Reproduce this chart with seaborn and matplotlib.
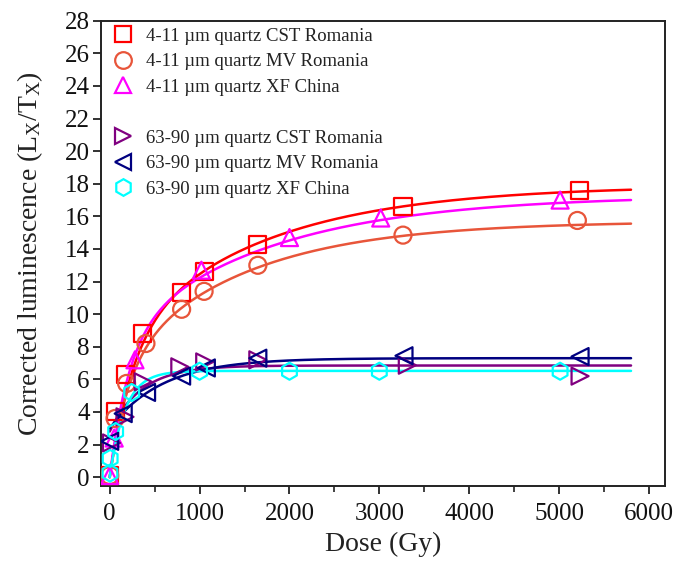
import numpy as np
import pandas as pd
import matplotlib
matplotlib.use("Agg")
import matplotlib.pyplot as plt
from matplotlib.lines import Line2D
from matplotlib.ticker import MultipleLocator
import seaborn as sns

# ---- measured dose-response points (Dose in Gy, corrected Lx/Tx) ----
dose_cst_fine = [0, 60, 180, 370, 800, 1050, 1640, 3263, 5225]
lum_cst_fine = [0.1, 4.0, 6.3, 8.8, 11.3, 12.6, 14.3, 16.6, 17.6]

dose_mv_fine = [0, 60, 188, 403, 800, 1050, 1648, 3263, 5203]
lum_mv_fine = [0.1, 3.6, 5.75, 8.2, 10.3, 11.4, 13.0, 14.85, 15.75]

dose_xf_fine = [0, 50, 281, 1020, 2000, 3015, 5011]
lum_xf_fine = [0.1, 2.4, 7.2, 12.7, 14.7, 15.9, 17.0]

dose_cst_coarse = [20, 170, 373, 780, 1057, 1648, 3311, 5233]
lum_cst_coarse = [2.1, 3.7, 5.85, 6.77, 7.07, 7.2, 6.87, 6.2]

dose_mv_coarse = [0, 150, 410, 800, 1075, 1648, 3274, 5233]
lum_mv_coarse = [2.2, 3.9, 5.2, 6.2, 6.7, 7.3, 7.45, 7.4]

dose_xf_coarse = [3, 5, 66, 244, 1000, 2000, 3000, 5011]
lum_xf_coarse = [0.25, 1.15, 2.8, 5.2, 6.5, 6.5, 6.5, 6.5]

# ---- fitted saturating-exponential parameters: (offset, A1, D1, A2, D2) ----
fit_cst_fine = (0.0, 8.0, 250, 9.9, 1600)
fit_mv_fine = (0.0, 6.5, 200, 9.2, 1400)
fit_xf_fine = (0.0, 8.3, 210, 9.0, 1700)
fit_cst_coarse = (2.8, 4.05, 350, 0.0, 1000)
fit_mv_coarse = (3.0, 4.3, 585, 0.0, 1000)
fit_xf_coarse = (0.0, 6.52, 170, 0.0, 1000)

labels = [
    "4-11 \u00b5m quartz CST Romania",
    "4-11 \u00b5m quartz MV Romania",
    "4-11 \u00b5m quartz XF China",
    "63-90 \u00b5m quartz CST Romania",
    "63-90 \u00b5m quartz MV Romania",
    "63-90 \u00b5m quartz XF China",
]
colors = ["#ff0000", "#e8553a", "#ff00ff", "#800080", "#000080", "#00ffff"]
markers = ["s", "o", "^", ">", "<", "h"]

doses = [dose_cst_fine, dose_mv_fine, dose_xf_fine,
         dose_cst_coarse, dose_mv_coarse, dose_xf_coarse]
lums = [lum_cst_fine, lum_mv_fine, lum_xf_fine,
        lum_cst_coarse, lum_mv_coarse, lum_xf_coarse]
fits = [fit_cst_fine, fit_mv_fine, fit_xf_fine,
        fit_cst_coarse, fit_mv_coarse, fit_xf_coarse]


def growth(d, c, a1, d1, a2, d2):
    return c + a1 * (1 - np.exp(-d / d1)) + a2 * (1 - np.exp(-d / d2))


sns.set_theme(style="ticks")
plt.rcParams["font.family"] = ["Liberation Serif", "DejaVu Serif"]
plt.rcParams["mathtext.fontset"] = "custom"
plt.rcParams["mathtext.rm"] = "Liberation Serif"
plt.rcParams["mathtext.it"] = "Liberation Serif:italic"

fig = plt.figure(figsize=(6.76, 5.62), dpi=100)
ax = fig.add_axes([0.149, 0.135, 0.835, 0.828])

dgrid = np.linspace(0, 5800, 400)
curve_frames = []
for lab, p in zip(labels, fits):
    curve_frames.append(pd.DataFrame({"dose": dgrid, "lum": growth(dgrid, *p), "series": lab}))
curves = pd.concat(curve_frames, ignore_index=True)

sns.lineplot(data=curves, x="dose", y="lum", hue="series", hue_order=labels,
             palette=colors, linewidth=1.8, legend=False, ax=ax, sort=False)

for d, l, lab, col, mk in zip(doses, lums, labels, colors, markers):
    pts = pd.DataFrame({"dose": d, "lum": l})
    sns.scatterplot(data=pts, x="dose", y="lum", marker=mk, s=150,
                    facecolor="none", edgecolor=col, linewidth=1.6,
                    ax=ax, legend=False, zorder=3)

ax.set_xlim(-100, 6180)
ax.set_ylim(-0.55, 28)
ax.xaxis.set_major_locator(MultipleLocator(1000))
ax.xaxis.set_minor_locator(MultipleLocator(500))
ax.yaxis.set_major_locator(MultipleLocator(2))
ax.tick_params(axis="both", which="major", direction="out", length=6, width=1.3,
               labelsize=18, color="#222222", labelcolor="#111111")
ax.tick_params(axis="x", which="major", pad=6)
ax.tick_params(axis="y", which="major", pad=2)
ax.tick_params(axis="x", which="minor", direction="out", length=4, width=1.2, color="#222222")
for sp in ax.spines.values():
    sp.set_linewidth(1.4)
    sp.set_color("#222222")

ax.set_xlabel("Dose (Gy)", fontsize=20, color="#222222", labelpad=5)
ax.set_ylabel("Corrected luminescence (L$_\\mathregular{X}$/T$_\\mathregular{X}$)",
              fontsize=20, color="#222222", labelpad=14)

handles = []
for i, (col, mk, lab) in enumerate(zip(colors, markers, labels)):
    if i == 3:
        handles.append(Line2D([], [], linestyle="none", marker="", label=" "))
    handles.append(Line2D([], [], linestyle="none", marker=mk, markersize=12,
                          markerfacecolor="none", markeredgecolor=col,
                          markeredgewidth=1.6, label=lab))
leg = ax.legend(handles=handles, loc="upper left", bbox_to_anchor=(-0.005, 1.014),
                frameon=False, fontsize=13.5, handletextpad=0.55,
                labelspacing=0.45, borderaxespad=0.3, handlelength=1.3)
for t in leg.get_texts():
    t.set_color("#222222")

fig.savefig("out.png", dpi=100)
